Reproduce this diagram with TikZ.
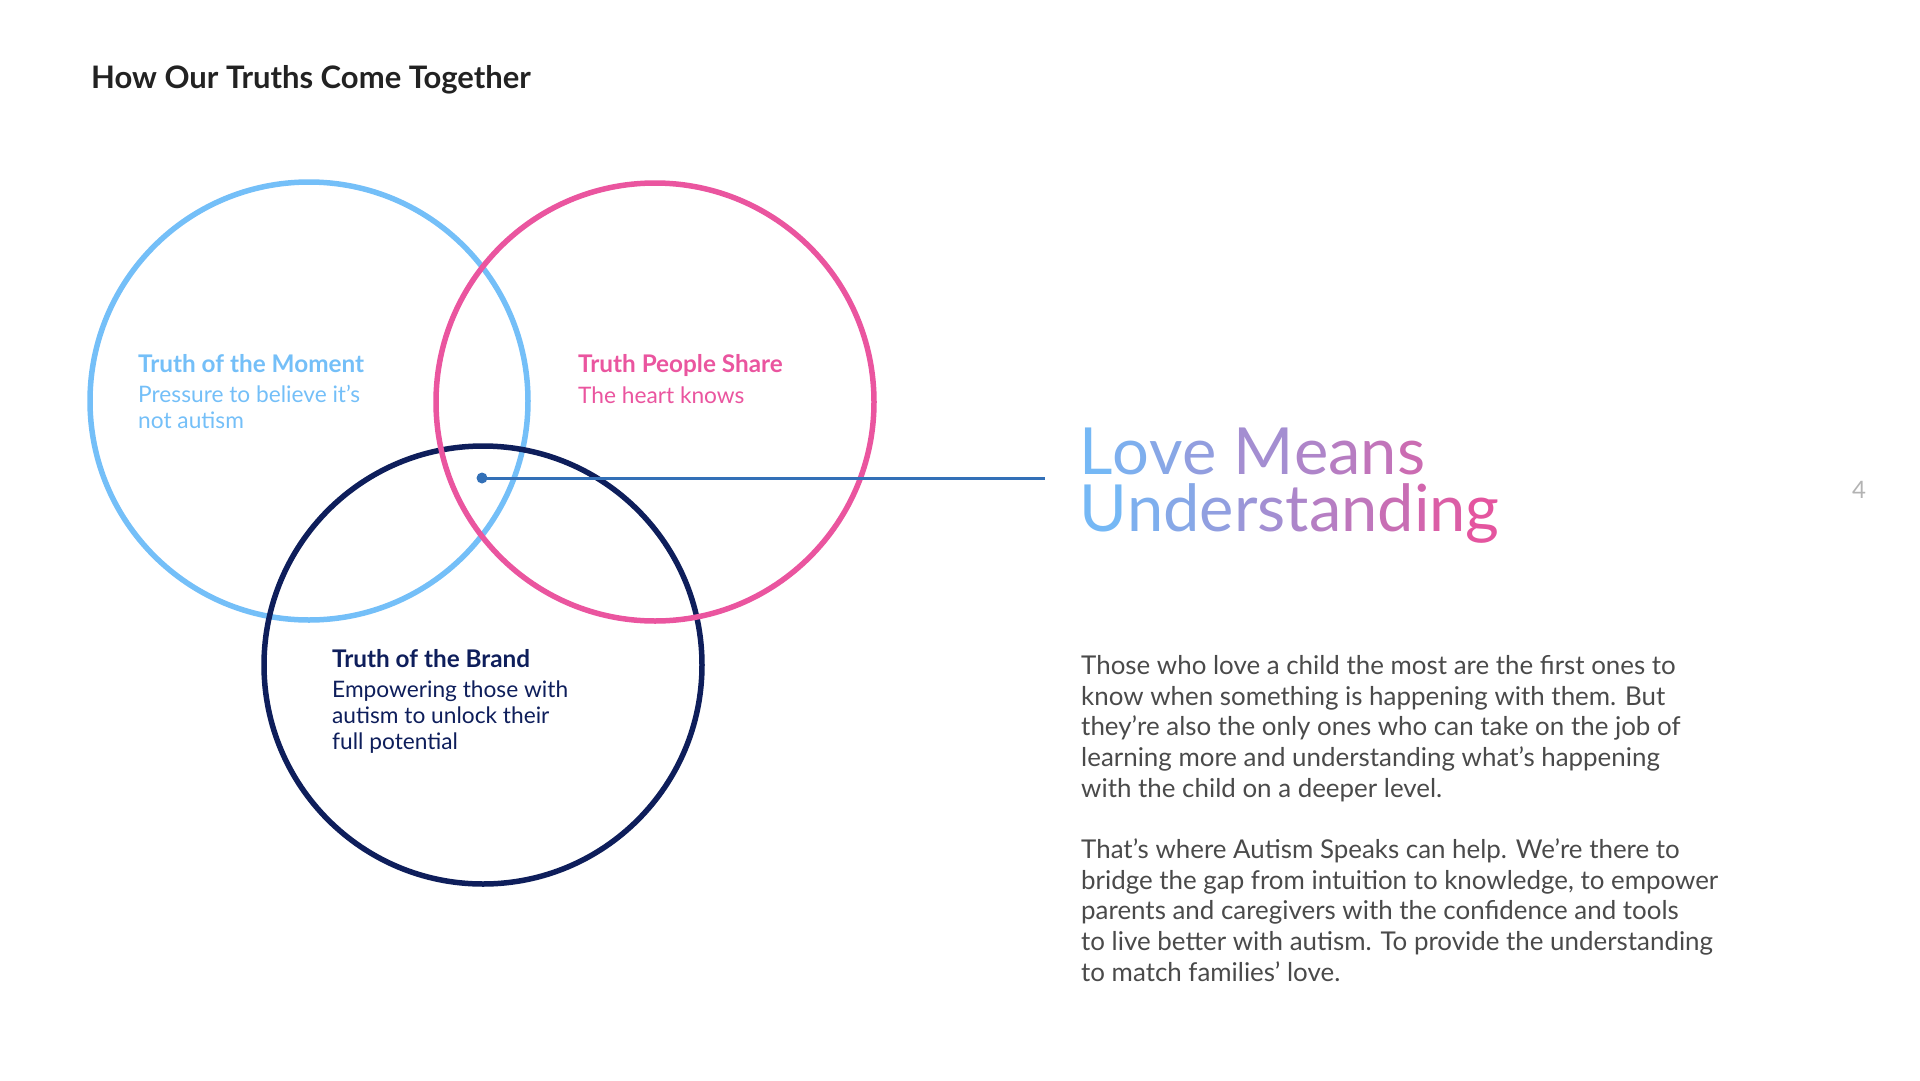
\documentclass[tikz,border=0pt]{standalone}
\usepackage{fontspec}
\setmainfont{Lato}

\definecolor{momentblue}{HTML}{74BFF8}
\definecolor{sharepink}{HTML}{EA559F}
\definecolor{brandnavy}{HTML}{0E1E5B}
\definecolor{linkblue}{HTML}{3370B7}
\definecolor{titlegray}{HTML}{222222}
\definecolor{bodygray}{HTML}{4A4A4A}
\definecolor{numgray}{HTML}{B3B3B3}
\definecolor{lovestart}{HTML}{70BCF9}
\definecolor{loveend}{HTML}{E9519B}

% one letter of the gradient heading, #1 = percent of the pink end
\newcommand{\gl}[2]{\textcolor{loveend!#1!lovestart}{#2}}

\begin{document}
\begin{tikzpicture}[x=1bp, y=-1bp,
  ring/.style={line width=5.5bp},
  head/.style={anchor=base west, inner sep=0pt, font=\fontsize{24.3bp}{27bp}\selectfont\bfseries},
  sub/.style={anchor=base west, inner sep=0pt, align=left, font=\fontsize{22.7bp}{26bp}\selectfont},
  body/.style={anchor=base west, inner sep=0pt, align=left, text=bodygray, font=\fontsize{25.9bp}{30.6bp}\selectfont}]

  \useasboundingbox (0,0) rectangle (1920,1080);

  % --- 1. title ---
  \node[anchor=base west, inner sep=0pt, text=titlegray, font=\fontsize{31bp}{36bp}\selectfont\bfseries]
    (title) at (91,88) {How Our Truths Come Together};

  % --- 2. three circles (pink on top) ---
  \draw[ring, momentblue] (309,401) circle (219);
  \draw[ring, brandnavy] (483,665) circle (219);
  \draw[ring, sharepink] (655,402) circle (219);

  % --- 3. connector from the centre ---
  \coordinate (hub) at (482,478);
  \coordinate (lineend) at (1045,478);
  \draw[linkblue, line width=3bp] (hub) -- (lineend);
  \fill[linkblue] (hub) circle (5.5);

  % --- 4. circle labels (multi-line nodes sit on their last baseline) ---
  \node[head, text=momentblue] (moment) at (138,372) {Truth of the Moment};
  \node[sub, text=momentblue] (momentsub) at (138,428) {Pressure to believe it’s\\not autism};

  \node[head, text=sharepink] (people) at (578,372) {Truth People Share};
  \node[sub, text=sharepink] (peoplesub) at (578,403) {The heart knows};

  \node[head, text=brandnavy] (brand) at (332,667) {Truth of the Brand};
  \node[sub, text=brandnavy] (brandsub) at (332,749) {Empowering those with\\autism to unlock their\\full potential};

  % --- 5. gradient heading ---
  \node[anchor=base west, inner sep=0pt, align=left, font=\fontsize{65bp}{57bp}\selectfont]
    (love) at (1079,531) {\gl{4}{L}\gl{12}{o}\gl{20}{v}\gl{28}{e} \gl{43}{M}\gl{51}{e}\gl{59}{a}\gl{67}{n}\gl{75}{s}\\
    \gl{4}{U}\gl{12}{n}\gl{19}{d}\gl{27}{e}\gl{35}{r}\gl{42}{s}\gl{50}{t}\gl{58}{a}\gl{65}{n}\gl{73}{d}\gl{81}{i}\gl{88}{n}\gl{96}{g}};

  % --- 6. body text ---
  \node[body] (bodyA) at (1081,797) {Those who love a child the most are the first ones to\\
    know when something is happening with them. But\\
    they’re also the only ones who can take on the job of\\
    learning more and understanding what’s happening\\
    with the child on a deeper level.};
  \node[body] (bodyB) at (1081,981) {That’s where Autism Speaks can help. We’re there to\\
    bridge the gap from intuition to knowledge, to empower\\
    parents and caregivers with the confidence and tools\\
    to live better with autism. To provide the understanding\\
    to match families’ love.};

  % --- 7. page number ---
  \node[anchor=base, inner sep=0pt, text=numgray, font=\fontsize{24bp}{28bp}\selectfont]
    (pagenum) at (1859,498) {4};

\end{tikzpicture}
\end{document}
